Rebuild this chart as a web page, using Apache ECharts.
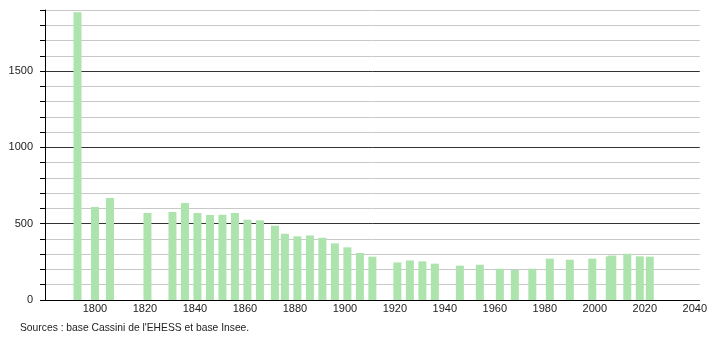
<!DOCTYPE html>
<html><head><meta charset="utf-8">
<script src="https://cdn.jsdelivr.net/npm/echarts@6/dist/echarts.min.js"></script>
<style>html,body{margin:0;padding:0;background:#fff}#c{width:710px;height:340px}</style>
</head><body><div id="c"></div>
<script>
const years = [1793,1800,1806,1821,1831,1836,1841,1846,1851,1856,1861,1866,1872,1876,1881,1886,1891,1896,1901,1906,1911,1921,1926,1931,1936,1946,1954,1962,1968,1975,1982,1990,1999,2006,2007,2013,2018,2022];
const population = [1885,609,668,570,577,635,570,557,559,570,526,522,487,434,417,423,408,371,345,308,284,246,259,253,238,225,231,205,197,205,271,264,271,286,291,303,286,284];
const xTickLabels = [1800,1820,1840,1860,1880,1900,1920,1940,1960,1980,2000,2020,2040];
const yTickLabels = [0,500,1000,1500];
const sourceText = "Sources : base Cassini de l'EHESS et base Insee.";

const chart = echarts.init(document.getElementById('c'), null, {renderer:'canvas'});
const font = 'Liberation Sans, Arial, sans-serif';
chart.setOption({
  animation:false,
  grid:{left:45,right:10,top:10,bottom:40},
  xAxis:{type:'value',min:1780,max:2042,interval:20,
    axisLine:{show:true,lineStyle:{color:'#000',width:1}},
    axisTick:{show:false},
    splitLine:{show:false},
    axisLabel:{color:'#222',fontSize:11,fontFamily:font,margin:3,
      showMinLabel:true,showMaxLabel:true,
      formatter:v=> xTickLabels.includes(v) ? String(v) : ''}
  },
  yAxis:{type:'value',min:0,max:1900,interval:100,
    axisLine:{show:true,lineStyle:{color:'#000',width:1}},
    axisTick:{show:true,length:5,lineStyle:{color:'#000'}},
    splitLine:{show:true,lineStyle:{color:['#333','#c8c8c8','#c8c8c8','#c8c8c8','#c8c8c8'],width:1}},
    axisLabel:{color:'#222',fontSize:11,fontFamily:font,margin:12,
      formatter:v=> yTickLabels.includes(v) ? String(v) : ''}
  },
  series:[{type:'bar',barWidth:8,
    itemStyle:{color:'#ade3ad'},
    data:years.map((y,i)=>[y,population[i]])}],
  graphic:[{type:'text',left:20,top:323,style:{text:sourceText,fill:'#222',font:'10.3px '+font}}]
});
</script></body></html>
